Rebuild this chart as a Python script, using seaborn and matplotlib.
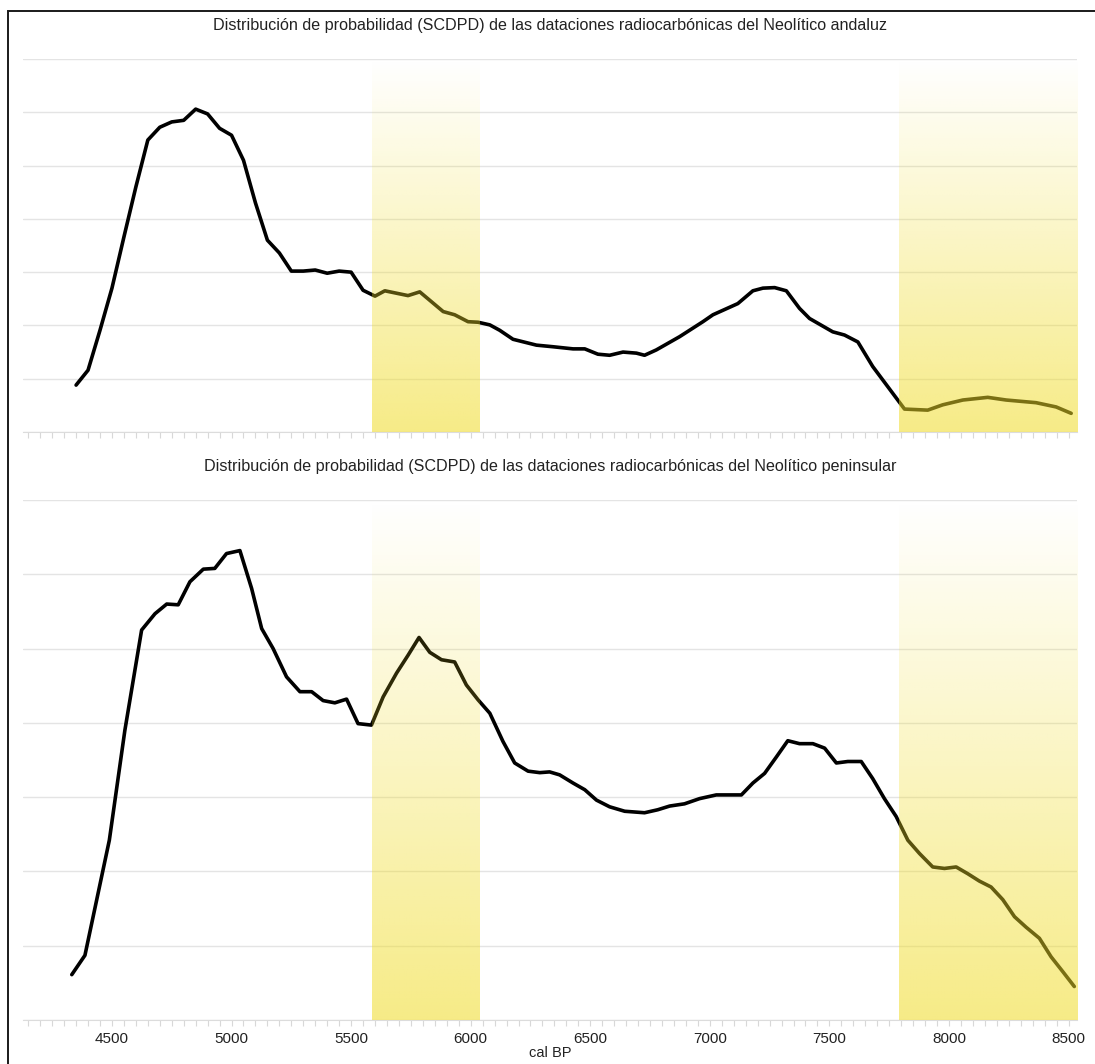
import matplotlib
matplotlib.use("Agg")
import matplotlib.pyplot as plt
import matplotlib.patches as mpatches
import numpy as np
import pandas as pd
import seaborn as sns

# SCDPD curve (years cal BP, relative probability)
andaluz_years = [4350, 4400, 4450, 4500, 4550, 4600, 4650, 4700, 4750, 4800,
                 4850, 4900, 4950, 5000, 5050, 5100, 5150, 5200, 5250, 5300,
                 5350, 5400, 5450, 5500, 5550, 5600, 5641, 5738, 5787, 5885,
                 5933, 5989, 6031, 6080, 6121, 6177, 6275, 6344, 6428, 6477,
                 6532, 6581, 6637, 6693, 6727, 6776, 6874, 6971, 7013, 7117,
                 7180, 7222, 7271, 7320, 7375, 7417, 7514, 7563, 7619, 7681,
                 7814, 7911, 7974, 8058, 8162, 8239, 8364, 8448, 8511]
andaluz_prob = [0.88, 1.16, 1.91, 2.70, 3.66, 4.60, 5.48, 5.72, 5.82, 5.85,
                6.06, 5.97, 5.70, 5.57, 5.10, 4.30, 3.60, 3.36, 3.02, 3.02,
                3.04, 2.98, 3.02, 3.00, 2.66, 2.55, 2.65, 2.56, 2.63, 2.26,
                2.20, 2.07, 2.06, 2.01, 1.91, 1.74, 1.63, 1.60, 1.56, 1.56,
                1.46, 1.44, 1.50, 1.48, 1.44, 1.54, 1.79, 2.07, 2.20, 2.41,
                2.65, 2.70, 2.71, 2.65, 2.32, 2.13, 1.88, 1.82, 1.69, 1.23,
                0.43, 0.41, 0.51, 0.60, 0.65, 0.60, 0.55, 0.47, 0.35]

peninsular_years = [4332, 4387, 4489, 4554, 4624, 4680, 4729, 4777, 4826, 4882,
                    4930, 4979, 5035, 5084, 5126, 5174, 5230, 5286, 5335, 5383,
                    5432, 5481, 5529, 5585, 5634, 5690, 5738, 5784, 5829, 5878,
                    5933, 5982, 6031, 6080, 6135, 6184, 6240, 6289, 6330, 6372,
                    6428, 6477, 6526, 6581, 6644, 6727, 6782, 6832, 6894, 6957,
                    7027, 7132, 7180, 7229, 7278, 7326, 7375, 7431, 7480, 7529,
                    7577, 7633, 7681, 7730, 7779, 7828, 7877, 7932, 7981, 8030,
                    8078, 8127, 8176, 8225, 8274, 8322, 8378, 8427, 8476, 8524]
peninsular_prob = [0.61, 0.87, 2.42, 3.90, 5.25, 5.47, 5.60, 5.59, 5.90, 6.07,
                   6.08, 6.28, 6.32, 5.81, 5.27, 5.00, 4.62, 4.42, 4.42, 4.30,
                   4.27, 4.32, 3.99, 3.97, 4.35, 4.67, 4.91, 5.15, 4.95, 4.85,
                   4.82, 4.51, 4.31, 4.13, 3.75, 3.46, 3.35, 3.33, 3.34, 3.30,
                   3.19, 3.10, 2.96, 2.87, 2.81, 2.79, 2.83, 2.88, 2.91, 2.98,
                   3.03, 3.03, 3.19, 3.32, 3.54, 3.76, 3.72, 3.72, 3.66, 3.46,
                   3.48, 3.48, 3.25, 2.98, 2.74, 2.42, 2.24, 2.06, 2.04, 2.06,
                   1.97, 1.87, 1.79, 1.62, 1.39, 1.25, 1.10, 0.85, 0.65, 0.45]

# highlighted periods (cal BP)
band_starts = [5588, 7789]
band_ends = [6036, 8535]

titles = [
    "Distribución de probabilidad (SCDPD) de las dataciones radiocarbónicas del Neolítico andaluz",
    "Distribución de probabilidad (SCDPD) de las dataciones radiocarbónicas del Neolítico peninsular",
]
xticks = [4500, 5000, 5500, 6000, 6500, 7000, 7500, 8000, 8500]

sns.set_style("white")
plt.rcParams['font.family'] = ['Liberation Sans', 'DejaVu Sans']

fig = plt.figure(figsize=(10.95, 10.64), dpi=100)
ax_top = fig.add_axes([0.021, 0.594, 0.9625, 0.3505])
ax_bot = fig.add_axes([0.021, 0.0414, 0.9625, 0.4886])

df_a = pd.DataFrame({'year': andaluz_years, 'prob': andaluz_prob})
df_p = pd.DataFrame({'year': peninsular_years, 'prob': peninsular_prob})

# vertical gradient: yellow at the bottom fading to nothing at the top
grad = np.zeros((256, 1, 4))
grad[..., 0] = 240 / 255
grad[..., 1] = 220 / 255
grad[..., 2] = 40 / 255
grad[:, 0, 3] = np.linspace(0.56, 0.0, 256) ** 1.0

for ax, df, title in [(ax_top, df_a, titles[0]), (ax_bot, df_p, titles[1])]:
    sns.lineplot(data=df, x='year', y='prob', ax=ax, color='black', lw=2.6,
                 zorder=3, sort=False)
    for s, e in zip(band_starts, band_ends):
        ax.imshow(grad, extent=[s, e, 0, 7], origin='lower', aspect='auto',
                  zorder=4, interpolation='bilinear')
    ax.set_xlim(4128, 8535)
    ax.set_ylim(0, 7)
    ax.set_yticks(range(0, 8))
    ax.set_yticklabels([])
    ax.grid(axis='y', color='#e4e4e4', lw=1)
    ax.set_axisbelow(True)
    ax.set_xticks(xticks)
    ax.set_xticks(np.arange(4150, 8550, 50), minor=True)
    ax.tick_params(axis='x', which='both', bottom=True, length=4, width=0.8,
                   color='#d8d8d8', labelsize=11, labelcolor='#222222', pad=5)
    ax.tick_params(axis='y', left=False)
    for sp in ['left', 'right', 'top']:
        ax.spines[sp].set_visible(False)
    ax.spines['bottom'].set_color('#dcdcdc')
    ax.set_ylabel('')
    ax.set_xlabel('')
    ax.set_title(title, fontsize=11.6, color='#222222', pad=21)

ax_top.set_xticklabels([])
ax_bot.set_xlabel('cal BP', fontsize=10.5, color='#222222', labelpad=0)

# frame around the figure
fig.patches.append(mpatches.Rectangle((8 / 1095, -0.01), 1.2, 1 - 11 / 1064 + 0.01,
                                      transform=fig.transFigure, fill=False,
                                      edgecolor='#1a1a1a', lw=1.4))

fig.savefig('out.png', dpi=100)
